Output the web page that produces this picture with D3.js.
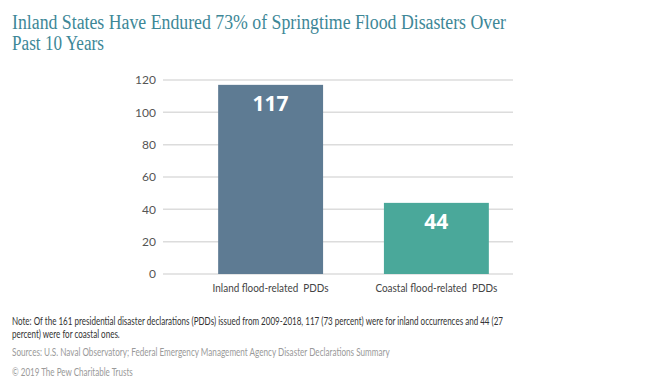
<!DOCTYPE html>
<html>
<head>
<meta charset="utf-8">
<script src="https://cdn.jsdelivr.net/npm/d3@7"></script>
<style>
  body { margin: 0; background: #fff; }
  svg { display: block; }
</style>
</head>
<body>
<div id="chart-area"></div>
<script>
// chart data
const categories = ["Inland flood-related  PDDs", "Coastal flood-related  PDDs"];
const values = [117, 44];
const barColors = ["#5e7b93", "#4aa89a"];
const yTicks = [0, 20, 40, 60, 80, 100, 120];

const titleLines = [
    "Inland States Have Endured 73% of Springtime Flood Disasters Over",
    "Past 10 Years"
];
const noteLines = [
    "Note: Of the 161 presidential disaster declarations (PDDs) issued from 2009-2018, 117 (73 percent) were for inland occurrences and 44 (27",
    "percent) were for coastal ones."
];
const sourceText = "Sources: U.S. Naval Observatory; Federal Emergency Management Agency Disaster Declarations Summary";
const copyrightText = "\u00a9 2019 The Pew Charitable Trusts";

const width = 650;
const height = 389;

const bodyFont = "'Lato', 'Roboto', sans-serif";

const svg = d3.select("#chart-area")
    .append("svg")
        .attr("width", width)
        .attr("height", height);

// squeeze a text to a given width (the reference uses a narrow face)
function fit(sel, w) {
    sel.attr("textLength", w).attr("lengthAdjust", "spacingAndGlyphs");
}

// same idea but with a horizontal scale, so the box really is that wide
function squeeze(sel, x, y, w) {
    const natural = sel.node().getComputedTextLength();
    const k = w / natural;
    sel.attr("x", 0).attr("y", 0)
        .attr("transform", `translate(${x}, ${y}) scale(${k}, 1)`);
}

// title
const titleWidths = [494, 92];
svg.append("g")
    .selectAll("text")
    .data(titleLines)
    .enter()
    .append("text")
    .attr("x", 12)
    .attr("y", (d, i) => 29 + i * 20.5)
    .attr("font-family", "'Liberation Serif', serif")
    .attr("font-size", 20)
    .attr("fill", "#3d8797")
    .text(d => d)
    .each(function(d, i) { fit(d3.select(this), titleWidths[i]); });

// scales
const yScale = d3.scaleLinear()
    .domain([0, 120])
    .range([274, 80]);

const xScale = d3.scaleBand()
    .domain(categories)
    .range([185, 522])
    .paddingInner(0.367)
    .paddingOuter(0.2);

const gridLeft = 163;
const gridRight = 513;

// gridlines
svg.append("g")
    .selectAll("line")
    .data(yTicks)
    .enter()
    .append("line")
    .attr("x1", gridLeft)
    .attr("x2", gridRight)
    .attr("y1", d => yScale(d))
    .attr("y2", d => yScale(d))
    .attr("stroke", "#dcdcdc")
    .attr("stroke-width", 1.5);

// y axis
const yAxis = svg.append("g")
    .attr("transform", `translate(${gridLeft}, 0)`)
    .call(d3.axisLeft(yScale).tickValues(yTicks).tickSize(0).tickPadding(7));
yAxis.select(".domain").remove();
yAxis.selectAll("text")
    .attr("font-family", bodyFont)
    .attr("font-size", 12)
    .attr("fill", "#555");

// bars
svg.append("g")
    .selectAll("rect")
    .data(values)
    .enter()
    .append("rect")
    .attr("x", (d, i) => xScale(categories[i]))
    .attr("width", xScale.bandwidth())
    .attr("y", d => yScale(d))
    .attr("height", d => yScale(0) - yScale(d))
    .attr("fill", (d, i) => barColors[i]);

// value labels
svg.append("g")
    .selectAll("text")
    .data(values)
    .enter()
    .append("text")
    .attr("x", (d, i) => xScale(categories[i]) + xScale.bandwidth() / 2)
    .attr("y", d => yScale(d) + 26)
    .attr("text-anchor", "middle")
    .attr("font-family", "'Open Sans', sans-serif")
    .attr("font-weight", "bold")
    .attr("font-size", 21)
    .attr("fill", "#fff")
    .text(d => d);

// x axis
const xLabelWidths = [116, 122];
const xAxis = svg.append("g")
    .attr("transform", `translate(0, ${yScale(0)})`)
    .call(d3.axisBottom(xScale).tickSize(0).tickPadding(9));
xAxis.select(".domain").remove();
xAxis.selectAll("text")
    .attr("font-family", bodyFont)
    .attr("font-size", 12)
    .attr("fill", "#444")
    .style("white-space", "pre")
    .each(function(d, i) { fit(d3.select(this), xLabelWidths[i]); });

// footnotes
const footnotes = [
    { text: noteLines[0], y: 325, w: 492, color: "#333" },
    { text: noteLines[1], y: 338, w: 108, color: "#333" },
    { text: sourceText, y: 356, w: 378, color: "#9a9a9a" },
    { text: copyrightText, y: 376, w: 121, color: "#9a9a9a" }
];
svg.append("g")
    .selectAll("text")
    .data(footnotes)
    .enter()
    .append("text")
    .attr("font-family", bodyFont)
    .attr("font-size", 11.5)
    .attr("fill", d => d.color)
    .text(d => d.text)
    .each(function(d) { squeeze(d3.select(this), 12, d.y, d.w); });
</script>
</body>
</html>
